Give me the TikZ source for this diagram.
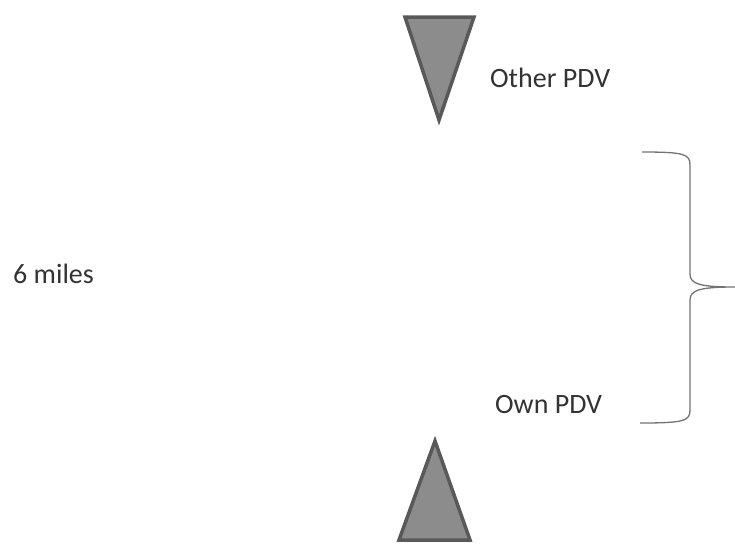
\documentclass[tikz,border=0pt]{standalone}
\usepackage{fontspec}
\setmainfont{Carlito}
\begin{document}
\begin{tikzpicture}[x=1pt,y=-1pt,
  lbl/.style={inner sep=0pt,anchor=base west,text=black!80,font=\fontsize{28}{33}\selectfont},
  tri/.style={fill=black!45,draw=black!65,line width=3.5pt,line join=miter},
  brace/.style={draw=black!55,line width=1.3pt}]
\useasboundingbox[fill=white] (0,0) rectangle (735,550);
% triangles
\draw[tri] (405,17) -- (474,17) -- (439,120) -- cycle;
\draw[tri] (435,441) -- (470,540) -- (399,540) -- cycle;
% labels
\node[lbl] (other) at (490,87) {Other PDV};
\node[lbl] (own) at (495,413) {Own PDV};
\node[lbl] (miles) at (13,283) {6 miles};
% brace
\coordinate (btop) at (642,152);
\coordinate (bbot) at (640,423);
\coordinate (btip) at (735,287);
\draw[brace] (btop) .. controls (684,152) and (690,154) .. (690,165) -- (690,274)
  .. controls (690,284) and (700,287) .. (btip)
  .. controls (700,287) and (690,290) .. (690,300) -- (690,410)
  .. controls (690,421) and (684,423) .. (bbot);
\end{tikzpicture}
\end{document}
